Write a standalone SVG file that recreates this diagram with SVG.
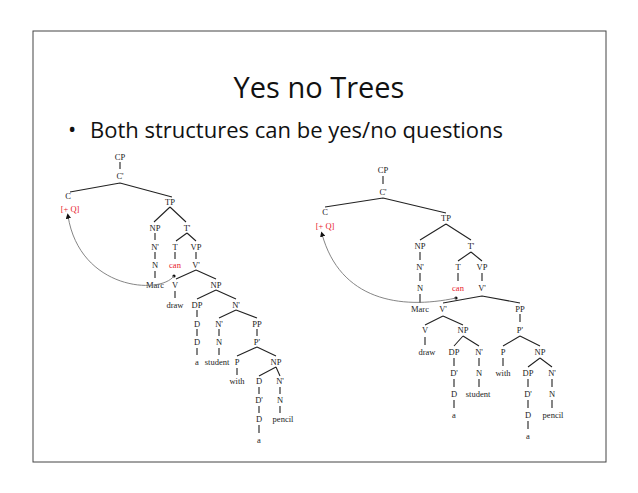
<svg xmlns="http://www.w3.org/2000/svg" width="638" height="493" viewBox="0 0 638 493">
<style>
.t text{font-family:"Liberation Serif",serif;font-size:8.5px;text-anchor:middle;fill:#222222}
.t text.r{fill:#e8202a}
.l{stroke:#222;stroke-width:1.1;fill:none}
.m{stroke:#777;stroke-width:0.9;fill:none}
</style>
<defs><marker id="ah" markerWidth="6" markerHeight="6" refX="3" refY="3" orient="auto"><path d="M0,0L6,3L0,6z" fill="#111"/></marker></defs>
<rect x="0" y="0" width="638" height="493" fill="#fff"/>
<rect x="33" y="31" width="573" height="431" fill="none" stroke="#444" stroke-width="1"/>
<text x="319" y="98" font-family="Open Sans,Liberation Sans,sans-serif" font-size="29" text-anchor="middle" fill="#111">Yes no Trees</text>
<text x="68" y="137" font-family="Open Sans,Liberation Sans,sans-serif" font-size="22" fill="#111">•</text>
<text x="90" y="138" font-family="Open Sans,Liberation Sans,sans-serif" font-size="22" fill="#111">Both structures can be yes/no questions</text>
<g id="tree1">
<g class="t">
<text x="120" y="160">CP</text><text x="120" y="179">C'</text><text x="68" y="199">C</text><text x="70" y="212" class="r">[+ Q]</text><text x="170" y="205">TP</text>
<text x="155" y="231">NP</text><text x="187" y="231">T'</text>
<text x="155" y="250">N'</text><text x="175" y="250">T</text><text x="196" y="250">VP</text>
<text x="155" y="268">N</text><text x="175" y="268" class="r">can</text><text x="196" y="268">V'</text>
<text x="155" y="288">Marc</text><text x="175" y="288">V</text><text x="216" y="288">NP</text>
<text x="175" y="308">draw</text><text x="197" y="308">DP</text><text x="236" y="308">N'</text>
<text x="197" y="327">D</text><text x="219" y="327">N'</text><text x="257" y="327">PP</text>
<text x="197" y="345">D</text><text x="219" y="345">N</text><text x="257" y="345">P'</text>
<text x="197" y="365">a</text><text x="217" y="365">student</text><text x="237" y="365">P</text><text x="276" y="365">NP</text>
<text x="237" y="384">with</text><text x="259" y="384">D</text><text x="280" y="384">N'</text>
<text x="259" y="403">D'</text><text x="280" y="403">N</text>
<text x="259" y="422">D</text><text x="283" y="422">pencil</text>
<text x="259" y="443">a</text>
</g>
<path class="l" d="M120,162v7M120,183L70,192M120,183L172,197M170,207L154,222M170,207L186,222M155,233v7M155,252v7M155,271v7M187,233L176,241M187,233L196,241M175,252v7M196,252v7M196,270L176,279M196,270L216,279M175,291v7M216,290L197,299M216,290L236,299M197,310v7M197,329v7M197,348v7M236,310L219,318M236,310L257,318M219,329v7M219,348v7M257,329v7M257,347L237,356M257,347L276,356M237,368v7M276,367L259,376M276,367L280,376M259,387v7M280,387v7M259,406v7M280,406v7M259,425v8"/>
</g>
<g id="tree2">
<g class="t">
<text x="383" y="173">CP</text><text x="383" y="195">C'</text><text x="325" y="215">C</text><text x="325" y="229" class="r">[+ Q]</text><text x="446" y="221">TP</text>
<text x="420" y="249">NP</text><text x="471" y="249">T'</text>
<text x="420" y="270">N'</text><text x="458" y="270">T</text><text x="482" y="270">VP</text>
<text x="420" y="291">N</text><text x="458" y="291" class="r">can</text><text x="482" y="291">V'</text>
<text x="420" y="312">Marc</text><text x="443" y="312">V'</text><text x="520" y="312">PP</text>
<text x="425" y="333">V</text><text x="463" y="333">NP</text><text x="520" y="333">P'</text>
<text x="427" y="355">draw</text><text x="454" y="355">DP</text><text x="479" y="355">N'</text><text x="503" y="355">P</text><text x="540" y="355">NP</text>
<text x="454" y="376">D'</text><text x="479" y="376">N</text><text x="503" y="376">with</text><text x="528" y="376">DP</text><text x="552" y="376">N'</text>
<text x="454" y="397">D</text><text x="478" y="397">student</text><text x="528" y="397">D'</text><text x="552" y="397">N</text>
<text x="454" y="418">a</text><text x="528" y="418">D</text><text x="553" y="418">pencil</text>
<text x="528" y="439">a</text>
</g>
<path class="l" d="M383,176v8M383,198L325,207M383,198L446,213M446,224L420,240M446,224L471,240M420,252v8M420,273v8M420,294v9M471,252L458,261M471,252L482,261M458,273v8M482,273v8M482,296L443,303M482,296L520,303M443,316L425,325M443,316L463,325M425,337v8M463,336L454,346M463,336L479,346M520,314v8M520,336L503,346M520,336L540,346M454,358v8M454,379v8M454,400v8M479,358v8M479,379v8M503,358v8M540,358L528,367M540,358L552,367M528,379v8M528,400v8M528,421v8M552,379v8M552,400v8"/>
</g>
<g id="connectors">
<circle cx="174" cy="276" r="1.6" fill="#111"/>
<path class="m" marker-end="url(#ah)" d="M174,276C160,295 80,290 68,216"/>
<circle cx="456" cy="298" r="1.6" fill="#111"/>
<path class="m" marker-end="url(#ah)" d="M456,298C400,310 340,300 322,234"/>
</g>
</svg>
